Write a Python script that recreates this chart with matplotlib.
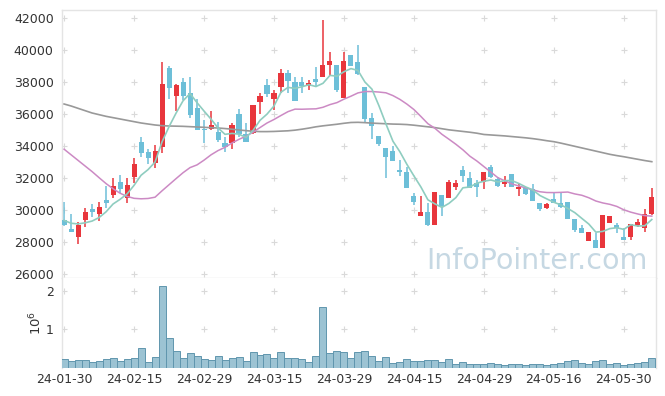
import matplotlib
matplotlib.use("Agg")
import matplotlib.pyplot as plt
import numpy as np
import pandas as pd

# trading days (KRX), 2024-01-30 .. 2024-06-05
dates = ["2024-01-30", "2024-01-31", "2024-02-01", "2024-02-02", "2024-02-05", "2024-02-06", "2024-02-07",
         "2024-02-08", "2024-02-13", "2024-02-14", "2024-02-15", "2024-02-16", "2024-02-19", "2024-02-20",
         "2024-02-21", "2024-02-22", "2024-02-23", "2024-02-26", "2024-02-27", "2024-02-28", "2024-02-29",
         "2024-03-04", "2024-03-05", "2024-03-06", "2024-03-07", "2024-03-08", "2024-03-11", "2024-03-12",
         "2024-03-13", "2024-03-14", "2024-03-15", "2024-03-18", "2024-03-19", "2024-03-20", "2024-03-21",
         "2024-03-22", "2024-03-25", "2024-03-26", "2024-03-27", "2024-03-28", "2024-03-29", "2024-04-01",
         "2024-04-02", "2024-04-03", "2024-04-04", "2024-04-05", "2024-04-08", "2024-04-09", "2024-04-11",
         "2024-04-12", "2024-04-15", "2024-04-16", "2024-04-17", "2024-04-18", "2024-04-19", "2024-04-22",
         "2024-04-23", "2024-04-24", "2024-04-25", "2024-04-26", "2024-04-29", "2024-04-30", "2024-05-02",
         "2024-05-03", "2024-05-07", "2024-05-08", "2024-05-09", "2024-05-10", "2024-05-13", "2024-05-14",
         "2024-05-16", "2024-05-17", "2024-05-20", "2024-05-21", "2024-05-22", "2024-05-23", "2024-05-24",
         "2024-05-27", "2024-05-28", "2024-05-29", "2024-05-30", "2024-05-31", "2024-06-03", "2024-06-04",
         "2024-06-05"]

opens = [29396, 28813, 28313, 29396, 30063, 29771, 30625, 30958, 31750, 30750,
         32083, 34250, 33604, 32958, 33958, 38875, 37146, 38000, 37313, 36375,
         35042, 35042, 34875, 34208, 34167, 36000, 34750, 34792, 36771, 37813,
         36958, 37708, 38583, 38021, 38021, 37770, 38188, 38333, 39063, 39063,
         37021, 39688, 39271, 37667, 35771, 34625, 33896, 33688, 32500, 32396,
         30875, 29646, 29875, 29063, 30938, 30729, 31458, 32500, 31979, 31667,
         31771, 32708, 31917, 31625, 32250, 31313, 31396, 31292, 30458, 30104,
         30667, 30417, 30521, 29417, 28854, 28083, 28125, 27646, 29208, 29063,
         28333, 28292, 29063, 28896, 29750]
highs = [30479, 29729, 29271, 30104, 30354, 30500, 31500, 31979, 32188, 31979,
         33250, 34563, 33833, 34042, 39250, 39000, 37875, 38250, 38313, 36958,
         35625, 36167, 35500, 34583, 35458, 36313, 35458, 36563, 37292, 38167,
         37500, 38792, 38750, 38333, 38333, 38120, 38917, 41875, 39854, 39063,
         39850, 39688, 40330, 37667, 36083, 34625, 33896, 34030, 33150, 32708,
         31042, 30850, 30458, 31104, 30938, 31875, 31875, 32750, 32396, 31875,
         32396, 32813, 32083, 32125, 32250, 31667, 31396, 31625, 30458, 30458,
         31146, 31146, 30521, 29417, 29042, 28646, 28583, 29688, 29625, 29208,
         28854, 29125, 29417, 30042, 31354]
lows = [29000, 28604, 27854, 28958, 29563, 29292, 30125, 30729, 31083, 30417,
        31688, 33333, 32854, 32604, 33542, 36958, 36188, 36875, 35771, 35000,
        34167, 35000, 34271, 33646, 33792, 34583, 34271, 34750, 36000, 37042,
        36250, 37333, 37300, 36833, 37333, 37500, 37730, 38333, 38400, 37396,
        37021, 39000, 38438, 35521, 34417, 34000, 31979, 33063, 32100, 31354,
        30340, 29646, 28980, 29063, 29600, 30729, 31250, 31771, 31354, 30833,
        31292, 32021, 31458, 31458, 31417, 30875, 30938, 30583, 29938, 30063,
        30417, 30104, 29417, 28646, 28542, 28083, 27646, 27646, 29167, 28542,
        28125, 28125, 28917, 28646, 29688]
closes = [29083, 28646, 29063, 29875, 29875, 30188, 30438, 31500, 31333, 31563,
          32875, 33583, 33271, 33688, 37875, 37625, 37813, 37125, 35958, 35021,
          35000, 35292, 34375, 33958, 35313, 34750, 34271, 36563, 37125, 37250,
          37292, 38583, 38063, 36833, 37750, 37920, 38021, 39063, 39313, 37500,
          39313, 39000, 38479, 35690, 35280, 34125, 33333, 33070, 32370, 31354,
          30521, 29870, 29063, 31104, 30250, 31771, 31690, 32125, 31354, 31458,
          32354, 32083, 31521, 31771, 31458, 31458, 30979, 30583, 30063, 30375,
          30417, 30167, 29458, 28750, 28583, 28646, 27646, 29688, 29625, 28854,
          28125, 29125, 29250, 29729, 30792]
volumes_m = [0.22, 0.17, 0.20, 0.20, 0.15, 0.18, 0.22, 0.25, 0.17, 0.22,
             0.25, 0.51, 0.15, 0.27, 2.14, 0.77, 0.43, 0.25, 0.38, 0.30,
             0.22, 0.19, 0.30, 0.19, 0.25, 0.27, 0.17, 0.40, 0.32, 0.35,
             0.25, 0.40, 0.25, 0.25, 0.22, 0.14, 0.30, 1.59, 0.38, 0.44,
             0.41, 0.25, 0.41, 0.44, 0.30, 0.17, 0.27, 0.11, 0.14, 0.22,
             0.17, 0.17, 0.19, 0.19, 0.14, 0.22, 0.09, 0.14, 0.09, 0.09,
             0.09, 0.11, 0.09, 0.06, 0.09, 0.09, 0.06, 0.09, 0.09, 0.06,
             0.09, 0.11, 0.17, 0.19, 0.11, 0.09, 0.17, 0.19, 0.09, 0.11,
             0.06, 0.09, 0.11, 0.14, 0.25]

# moving average values before enough closes are in the window
ma5_head = [29350, 29170, 29130, 29200]
ma20_head = [33800, 33450, 33100, 32750, 32400, 32020, 31650, 31330, 31050, 30850,
             30730, 30700, 30720, 30800, 31200, 31580, 31960, 32330, 32650]
ma120 = [36625, 36500, 36354, 36208, 36063, 35958, 35854, 35771, 35688, 35604,
         35521, 35438, 35375, 35313, 35271, 35250, 35240, 35229, 35208, 35188,
         35167, 35146, 35125, 35090, 35050, 35000, 34960, 34920, 34900, 34900,
         34910, 34930, 34950, 34990, 35050, 35120, 35200, 35260, 35310, 35360,
         35420, 35470, 35480, 35460, 35430, 35410, 35390, 35370, 35360, 35340,
         35300, 35250, 35200, 35150, 35080, 35010, 34960, 34910, 34860, 34800,
         34720, 34690, 34660, 34630, 34590, 34550, 34510, 34460, 34400, 34330,
         34270, 34180, 34080, 33980, 33880, 33780, 33680, 33580, 33480, 33400,
         33330, 33250, 33170, 33090, 33020]

RED = "#e8363c"
BLUE = "#6dbfd8"
GRID = "#d9d9d9"
SPINE = "#e4e4e4"
TXT = "#333333"

df = pd.DataFrame({"date": pd.to_datetime(dates), "open": opens, "high": highs,
                   "low": lows, "close": closes, "volume": np.array(volumes_m) * 1e6})
ma5 = df["close"].rolling(5).mean().to_numpy()
ma5[:4] = ma5_head
ma20 = df["close"].rolling(20).mean().to_numpy()
ma20[:19] = ma20_head

x = np.arange(len(df))
o = df["open"].to_numpy()
c = df["close"].to_numpy()
col = np.where(c > o, RED, BLUE)

fig = plt.figure(figsize=(6.65, 3.96), dpi=100)
W, H = 665, 396
ax = fig.add_axes([62 / W, (H - 278) / H, (656 - 62) / W, (278 - 10) / H])
axv = fig.add_axes([62 / W, (H - 367.5) / H, (656 - 62) / W, (367.5 - 278) / H], sharex=ax)

# candles
ax.vlines(x, df["low"], df["high"], colors=col, linewidth=1.1, zorder=2)
ax.bar(x, np.maximum(np.abs(c - o), 70), bottom=np.minimum(o, c), width=0.72,
       color=col, linewidth=0, zorder=3)

# moving averages
ax.plot(x, ma120, color="#999999", linewidth=1.2, zorder=4)
ax.plot(x, ma20, color="#cc8ac4", linewidth=1.1, zorder=4)
ax.plot(x, ma5, color="#8fcdc0", linewidth=1.2, zorder=4)

# volume
axv.bar(x, df["volume"], width=1.0, color="#9cc3d3", edgecolor="#6096ae", linewidth=0.7, zorder=3)

yticks = list(range(26000, 42001, 2000))
xticks = list(range(0, len(df), 10))
ax.set_ylim(25750, 42500)
ax.set_xlim(-0.3, 84.6)
ax.set_yticks(yticks)
ax.set_yticklabels([str(v) for v in yticks])
axv.set_ylim(0, 2.35e6)
axv.set_yticks([1e6, 2e6])
axv.set_yticklabels(["1", "2"])
axv.set_ylabel(r"$10^6$", fontsize=9.5, color=TXT, labelpad=1)
axv.set_xticks(xticks)
axv.set_xticklabels([df["date"][i].strftime("%y-%m-%d") for i in xticks])
plt.setp(ax.get_xticklabels(), visible=False)

# grid as small crosses
gx, gy = np.meshgrid(xticks, yticks)
ax.plot(gx.ravel(), gy.ravel(), "+", color=GRID, ms=5, mew=0.8, zorder=1)
gx, gy = np.meshgrid(xticks, [1e6, 2e6])
axv.plot(gx.ravel(), gy.ravel(), "+", color=GRID, ms=5, mew=0.8, zorder=1)

for a in (ax, axv):
    a.tick_params(length=0, colors=TXT, labelsize=9)
    for s in a.spines.values():
        s.set_color(SPINE)
        s.set_linewidth(1.0)
ax.tick_params(axis="y", pad=6)
axv.tick_params(axis="y", pad=6)
axv.tick_params(axis="x", pad=4)
axv.spines["top"].set_visible(False)
axv.spines["bottom"].set_visible(False)

ax.text(0.986, 0.035, "InfoPointer.com", transform=ax.transAxes, ha="right", va="baseline",
        fontsize=20.5, color="#c6d8e3", zorder=0)

fig.savefig("out.png", dpi=100)
